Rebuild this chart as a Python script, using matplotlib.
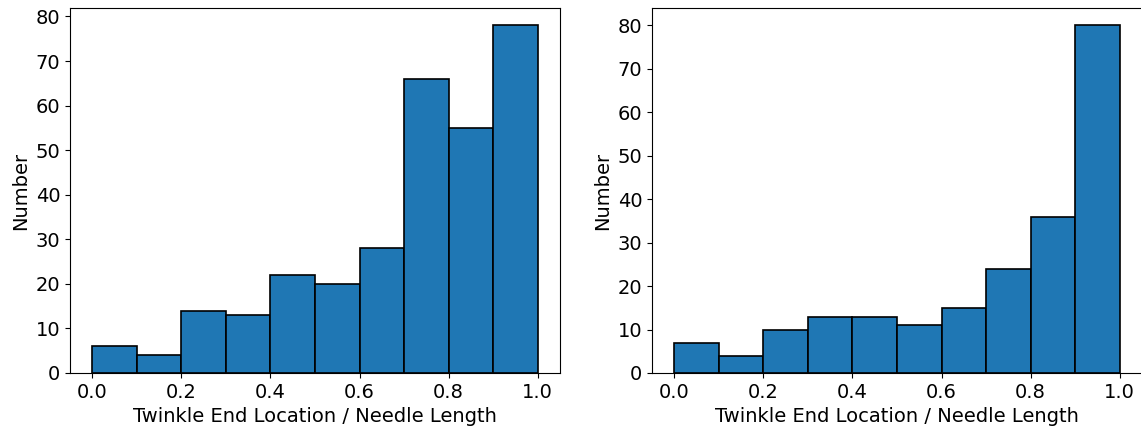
import numpy as np
import matplotlib
matplotlib.use('Agg')
import matplotlib.pyplot as plt

# bin edges and counts
bin_edges = np.linspace(0, 1, 11)
counts_left = [6, 4, 14, 13, 22, 20, 28, 66, 55, 78]
counts_right = [7, 4, 10, 13, 13, 11, 15, 24, 36, 80]

xlabel = 'Twinkle End Location / Needle Length'
ylabel = 'Number'

plt.rcParams['font.size'] = 14

fig = plt.figure(figsize=(11.41, 4.29), dpi=100)
ax1 = fig.add_axes([70/1141, 1 - 373/429, 490/1141, 365/429])
ax2 = fig.add_axes([652/1141, 1 - 373/429, 490/1141, 365/429])

centers = 0.5 * (bin_edges[1:] + bin_edges[:-1])
for ax, counts in [(ax1, counts_left), (ax2, counts_right)]:
    ax.hist(centers, bins=bin_edges, weights=counts, color='#1f77b4',
            edgecolor='black', linewidth=1.2)
    ax.set_xlabel(xlabel, fontsize=14)
    ax.set_ylabel(ylabel, fontsize=14)
    ax.tick_params(labelsize=14)
    ax.set_xticks([0.0, 0.2, 0.4, 0.6, 0.8, 1.0])

fig.savefig('out.png', dpi=100)
